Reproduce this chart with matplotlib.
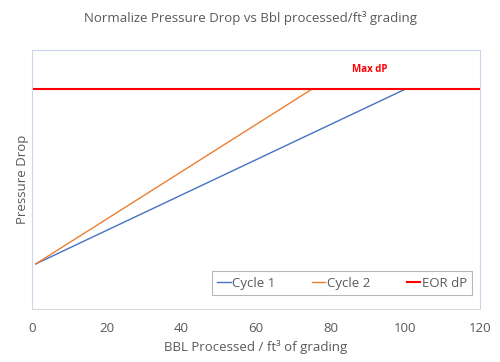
import matplotlib.pyplot as plt

# data
cycle1_x = [1, 100]
cycle1_y = [0.174, 0.849]
cycle2_x = [1, 75]
cycle2_y = [0.174, 0.849]
eor_x = [0, 120]
eor_y = [0.849, 0.849]
xticks = [0, 20, 40, 60, 80, 100, 120]

plt.rcParams['font.family'] = ['Open Sans', 'DejaVu Sans']
grey = '#595959'

fig = plt.figure(figsize=(5, 3.62), dpi=100)
ax = fig.add_axes([32/500, 1 - 309/362, 448/500, 259/362])

ax.plot(cycle1_x, cycle1_y, color='#4472C4', lw=1.0, label='Cycle 1')
ax.plot(cycle2_x, cycle2_y, color='#ED7D31', lw=1.0, label='Cycle 2')
ax.plot(eor_x, eor_y, color='#FF0000', lw=1.5, label='EOR dP')

ax.text(90.5, 0.923, 'Max dP', color='#FF0000', fontsize=7, fontweight='bold',
        ha='center', va='center')

ax.set_xlim(0, 120)
ax.set_ylim(0, 1.0)
ax.set_xticks(xticks)
ax.set_yticks([])
ax.tick_params(axis='x', length=0, labelsize=9.5, colors=grey, pad=9)

for side in ['left', 'top', 'right']:
    ax.spines[side].set_color('#c9d6ee')
    ax.spines[side].set_linewidth(0.8)
ax.spines['bottom'].set_color('#d9d9d9')
ax.spines['bottom'].set_linewidth(0.8)

ax.set_xlabel('BBL Processed / ft³ of grading', fontsize=9.5, color=grey, labelpad=4)
ax.set_ylabel('Pressure Drop', fontsize=9.5, color=grey, labelpad=2)
fig.suptitle('Normalize Pressure Drop vs Bbl processed/ft³ grading', fontsize=9.5,
             color=grey, y=1 - 18/362, va='center')

leg = ax.legend(loc='lower right', ncol=3, fontsize=9.5, frameon=True, fancybox=False,
                edgecolor='#a6a6a6', handlelength=1.0, handletextpad=0.1,
                columnspacing=2.8, borderpad=0.4, borderaxespad=0,
                bbox_to_anchor=(0.982, 0.054))
leg.get_frame().set_linewidth(0.8)
for t in leg.get_texts():
    t.set_color(grey)

fig.savefig('out.png', dpi=100)
